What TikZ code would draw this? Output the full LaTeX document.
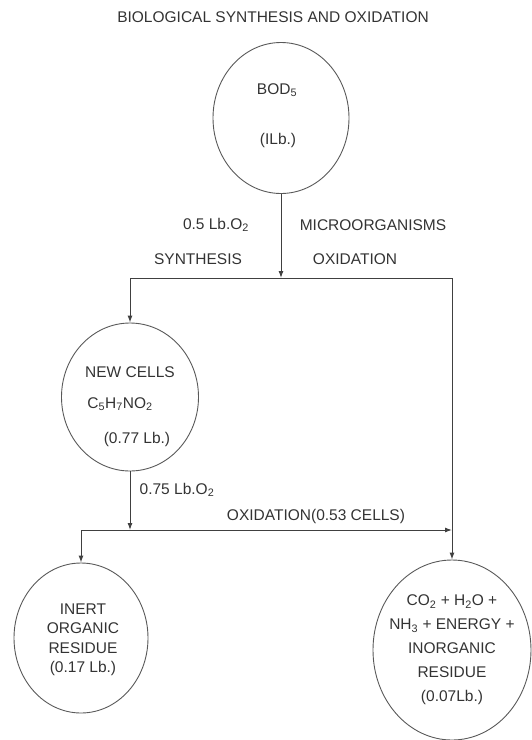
\documentclass[tikz,border=0pt]{standalone}
\usepackage{fontspec}
\setmainfont{Liberation Sans}
\usetikzlibrary{shapes.geometric,arrows.meta}

\tikzset{
  cell/.style={ellipse, draw=black!65, line width=0.9pt, inner sep=0pt},
  flow/.style={draw=black!75, line width=1pt},
  tip/.style={flow, -{Latex[length=7pt,width=5pt]}},
  lbl/.style={text=black!80, font=\fontsize{15.5}{18}\selectfont, inner sep=1pt},
}

\begin{document}
\begin{tikzpicture}[x=1pt, y=-1pt]
    \useasboundingbox (0,0) rectangle (532,740);

    % title
    \node[lbl] (title) at (273,17) {BIOLOGICAL SYNTHESIS AND OXIDATION};

    % the four circles
    \node[cell, minimum width=136pt, minimum height=151pt] (bod) at (281,118) {};
    \node[cell, minimum width=137pt, minimum height=148pt] (cells) at (130,397) {};
    \node[cell, minimum width=134pt, minimum height=150pt] (inert) at (81,638) {};
    \node[cell, minimum width=158pt, minimum height=180pt] (prod) at (452,650) {};

    % texts inside the circles
    \node[lbl] (bodname) at (277,90) {BOD\textsubscript{5}};
    \node[lbl] (bodmass) at (278,140) {(ILb.)};
    \node[lbl] (cellname) at (130,372) {NEW CELLS};
    \node[lbl] (cellform) at (120,404) {C\textsubscript{5}H\textsubscript{7}NO\textsubscript{2}};
    \node[lbl] (cellmass) at (137,439) {(0.77 Lb.)};
    \node[lbl, align=center, font=\fontsize{15.5}{19.5}\selectfont] (inerttxt) at (83,640)
        {INERT\\ORGANIC\\RESIDUE\\(0.17 Lb.)};
    \node[lbl, align=center, font=\fontsize{15.5}{24}\selectfont] (prodtxt) at (452,650)
        {CO\textsubscript{2} + H\textsubscript{2}O +\\NH\textsubscript{3} + ENERGY +\\INORGANIC\\RESIDUE\\(0.07Lb.)};

    % labels on the flow lines
    \node[lbl] (synO2) at (216,225) {0.5 Lb.O\textsubscript{2}};
    \node[lbl] (syn) at (198,259) {SYNTHESIS};
    \node[lbl] (micro) at (373,225) {MICROORGANISMS};
    \node[lbl] (oxi) at (355,259) {OXIDATION};
    \node[lbl] (oxiO2) at (177,490) {0.75 Lb.O\textsubscript{2}};
    \node[lbl] (oxicells) at (316,516) {OXIDATION(0.53 CELLS)};

    % branch points
    \coordinate (j1) at (279,278);
    \coordinate (j1l) at (cells.north |- j1);
    \coordinate (j1r) at (prod.north |- j1);
    \coordinate (j2) at (cells.south |- 0,530);
    \coordinate (j2l) at (inert.north |- j2);
    \coordinate (j2r) at (prod.north |- j2);

    % flow lines
    \draw[tip] (bod.south) -- (bod.south |- j1);
    \draw[flow] (j1l) -- (j1r);
    \draw[tip] (j1l) -- (cells.north);
    \draw[tip] (j1r) -- (prod.north);
    \draw[tip] (cells.south) -- (j2);
    \draw[tip] (j2l) -- (j2r);
    \draw[tip] (j2l) -- (inert.north);

\end{tikzpicture}
\end{document}
